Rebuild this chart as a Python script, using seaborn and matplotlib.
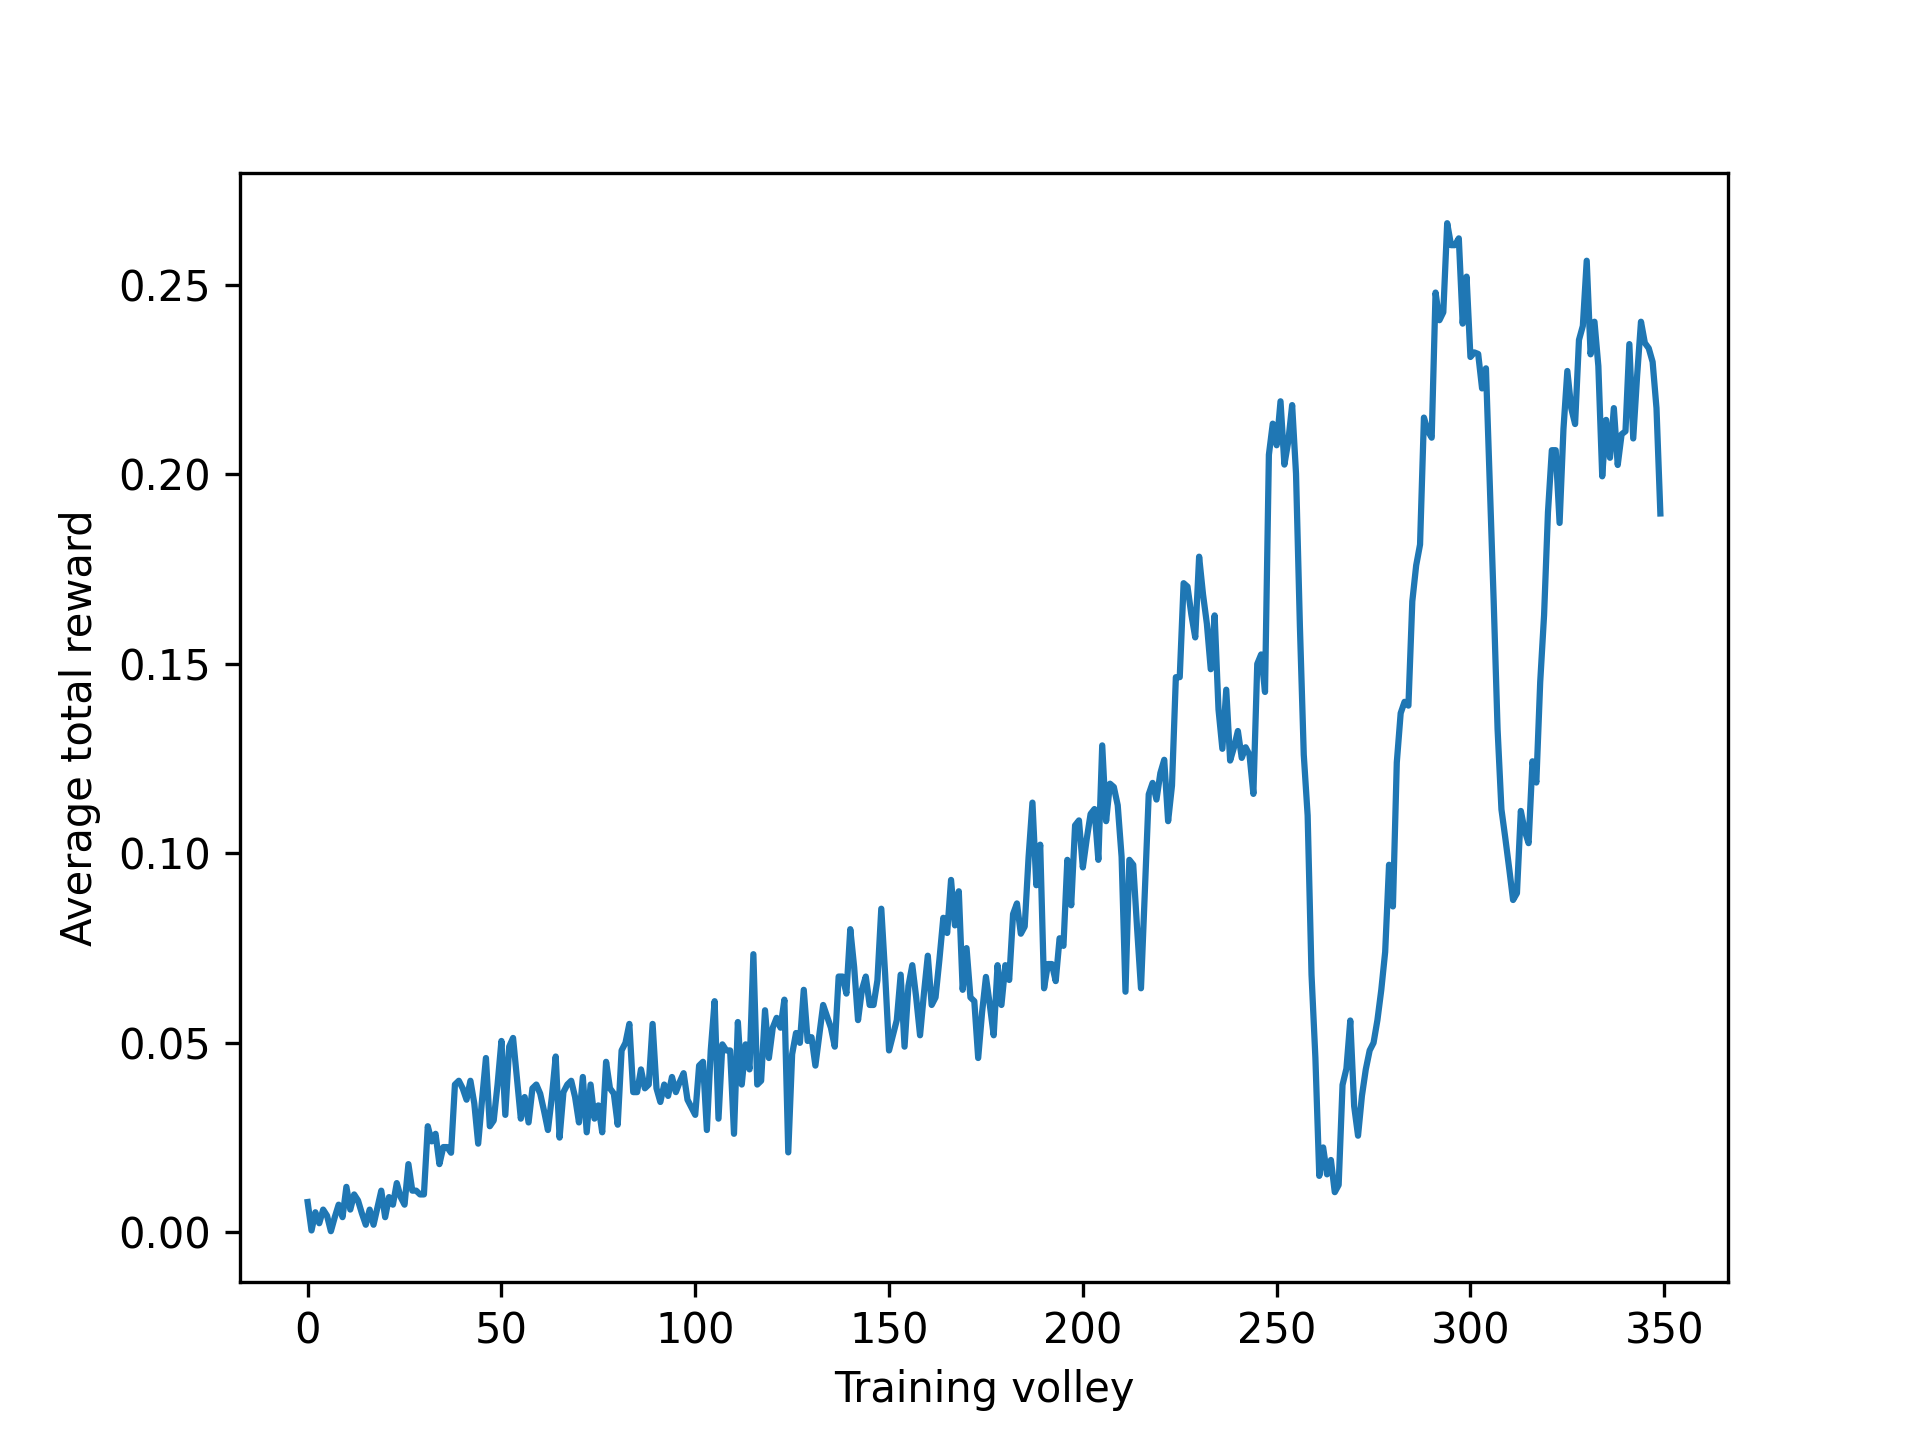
import numpy as np
import pandas as pd
import matplotlib
matplotlib.use("Agg")
import matplotlib.pyplot as plt
import seaborn as sns

volley_labels = list(range(350))

reward = [
    0.008, 0.0005, 0.0053, 0.0024, 0.006, 0.0044, 0.0003, 0.004, 0.0073, 0.004,
    0.012, 0.006, 0.010, 0.0084, 0.005, 0.002, 0.006, 0.002, 0.0065, 0.011,
    0.004, 0.0093, 0.0073, 0.013, 0.0093, 0.0073, 0.018, 0.011, 0.011, 0.010,
    0.010, 0.028, 0.024, 0.026, 0.018, 0.0225, 0.0225, 0.021, 0.039, 0.040,
    0.038, 0.035, 0.040, 0.034, 0.0234, 0.035, 0.046, 0.028, 0.0295, 0.039,
    0.0505, 0.031, 0.049, 0.0513, 0.0405, 0.030, 0.0357, 0.029, 0.038, 0.039,
    0.0366, 0.032, 0.027, 0.0357, 0.0464, 0.025, 0.037, 0.039, 0.040, 0.0357,
    0.029, 0.041, 0.0264, 0.039, 0.030, 0.0335, 0.0264, 0.045, 0.038, 0.0366,
    0.0284, 0.048, 0.050, 0.055, 0.037, 0.037, 0.043, 0.038, 0.039, 0.055,
    0.038, 0.0344, 0.039, 0.036, 0.041, 0.037, 0.0397, 0.042, 0.035, 0.033,
    0.031, 0.044, 0.045, 0.027, 0.048, 0.061, 0.030, 0.0496, 0.048, 0.048,
    0.026, 0.0555, 0.039, 0.0496, 0.043, 0.0734, 0.039, 0.040, 0.0586, 0.046,
    0.054, 0.0566, 0.054, 0.0614, 0.0211, 0.047, 0.0526, 0.050, 0.064, 0.0505,
    0.0515, 0.044, 0.052, 0.060, 0.057, 0.054, 0.049, 0.0675, 0.0675, 0.063,
    0.080, 0.070, 0.056, 0.064, 0.0675, 0.060, 0.060, 0.0665, 0.0854, 0.068,
    0.048, 0.052, 0.056, 0.068, 0.049, 0.065, 0.0705, 0.062, 0.052, 0.063,
    0.073, 0.060, 0.062, 0.072, 0.083, 0.079, 0.093, 0.081, 0.090, 0.064,
    0.075, 0.062, 0.061, 0.046, 0.058, 0.0674, 0.060, 0.052, 0.0705, 0.060,
    0.0705, 0.0666, 0.084, 0.0868, 0.0788, 0.0807, 0.099, 0.1134, 0.0916, 0.1023,
    0.0644, 0.0708, 0.0708, 0.0663, 0.0776, 0.0756, 0.0983, 0.0863, 0.1074, 0.1087,
    0.0963, 0.1038, 0.1104, 0.1117, 0.0983, 0.1285, 0.1085, 0.1184, 0.1175, 0.1127,
    0.0991, 0.0635, 0.0983, 0.097, 0.0802, 0.0644, 0.0897, 0.1156, 0.1186, 0.1142,
    0.1212, 0.1247, 0.1085, 0.1179, 0.1465, 0.1465, 0.1713, 0.1704, 0.163, 0.157,
    0.1783, 0.1684, 0.1606, 0.1486, 0.1628, 0.138, 0.1276, 0.1432, 0.1245, 0.128,
    0.1323, 0.1252, 0.128, 0.126, 0.1157, 0.150, 0.1525, 0.1426, 0.2052, 0.2134,
    0.2077, 0.2193, 0.2026, 0.2087, 0.2183, 0.2002, 0.160, 0.126, 0.110, 0.068,
    0.046, 0.0149, 0.0224, 0.0153, 0.0191, 0.0106, 0.0125, 0.0389, 0.0432, 0.0559,
    0.0333, 0.0255, 0.036, 0.043, 0.048, 0.050, 0.056, 0.064, 0.074, 0.097,
    0.086, 0.124, 0.137, 0.140, 0.139, 0.1665, 0.176, 0.1815, 0.215, 0.2115,
    0.2097, 0.248, 0.2407, 0.2428, 0.2663, 0.2605, 0.2605, 0.2623, 0.2398, 0.2522,
    0.231, 0.2322, 0.2318, 0.2227, 0.228, 0.197, 0.1664, 0.1328, 0.1116, 0.104,
    0.096, 0.0877, 0.0895, 0.1112, 0.106, 0.1027, 0.1243, 0.1187, 0.1452, 0.1629,
    0.190, 0.2064, 0.2064, 0.1872, 0.212, 0.2273, 0.2175, 0.2133, 0.2355, 0.2392,
    0.2564, 0.2317, 0.2403, 0.2286, 0.1995, 0.2144, 0.2044, 0.2175, 0.2025, 0.2106,
    0.2114, 0.2344, 0.2095, 0.226, 0.2403, 0.2347, 0.2333, 0.2297, 0.2175, 0.1897,
]

x_label = "Training volley"
y_label = "Average total reward"

df = pd.DataFrame({"volley": volley_labels, "reward": reward})

plt.rcParams["font.family"] = ["DejaVu Sans"]
fig, ax = plt.subplots(figsize=(6.4, 4.8), dpi=300)
sns.lineplot(data=df, x="volley", y="reward", ax=ax, color="#1f77b4",
             linewidth=1.5, legend=False, estimator=None)
ax.set_xlabel(x_label)
ax.set_ylabel(y_label)
ax.set_xticks([0, 50, 100, 150, 200, 250, 300, 350])
ax.set_yticks([0.0, 0.05, 0.10, 0.15, 0.20, 0.25])
ax.yaxis.set_major_formatter(matplotlib.ticker.FormatStrFormatter("%.2f"))
fig.savefig("out.png", dpi=300)
